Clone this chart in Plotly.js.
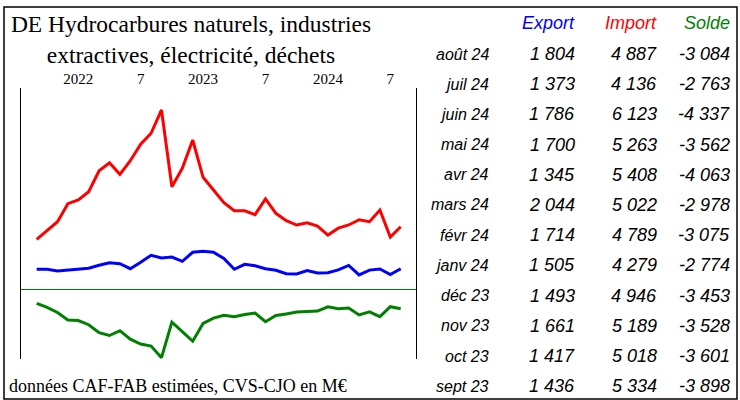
<!DOCTYPE html>
<html>
<head>
<meta charset="utf-8">
<script src="https://cdn.plot.ly/plotly-3.0.1.min.js"></script>
<style>html,body{margin:0;padding:0;background:#fff}#chart{width:740px;height:400px}</style>
</head>
<body>
<div id="chart"></div>
<script>
// Monthly series, Sep 2021 .. Aug 2024 (M€)
const months = ['2021-09','2021-10','2021-11','2021-12','2022-01','2022-02','2022-03','2022-04','2022-05','2022-06','2022-07','2022-08','2022-09','2022-10','2022-11','2022-12','2023-01','2023-02','2023-03','2023-04','2023-05','2023-06','2023-07','2023-08','2023-09','2023-10','2023-11','2023-12','2024-01','2024-02','2024-03','2024-04','2024-05','2024-06','2024-07','2024-08'];
const exportVals = [1760,1760,1635,1685,1730,1835,2055,2245,2170,1805,2275,2790,2590,2665,2350,3010,3085,3010,2555,1760,2125,2025,1805,1685,1436,1417,1661,1493,1505,1714,2044,1345,1700,1786,1373,1804];
const importVals = [3965,4600,5260,6590,6860,7470,9015,9605,8750,9750,10960,11770,13485,7840,9195,11275,8530,7595,6660,6070,6070,5780,6935,5880,5334,5018,5189,4946,4279,4789,5022,5408,5263,6123,4136,4887];
const soldeVals = [-2215,-2880,-3680,-4860,-4950,-5610,-6880,-7320,-6560,-7910,-8680,-9000,-10830,-5200,-6700,-8230,-5420,-4570,-4105,-4330,-3980,-3755,-5135,-4160,-3898,-3601,-3528,-3453,-2774,-3075,-2978,-4063,-3562,-4337,-2763,-3084];

// Axis ticks (top)
const tickMonths = ['2022-01','2022-07','2023-01','2023-07','2024-01','2024-07'];
const tickLabels = ['2022','7','2023','7','2024','7'];

// Table (latest 12 months)
const tableHeaders = ['Export','Import','Solde'];
const tableRows = ['août 24','juil 24','juin 24','mai 24','avr 24','mars 24','févr 24','janv 24','déc 23','nov 23','oct 23','sept 23'];
const tableExport = [1804,1373,1786,1700,1345,2044,1714,1505,1493,1661,1417,1436];
const tableImport = [4887,4136,6123,5263,5408,5022,4789,4279,4946,5189,5018,5334];
const tableSolde = [-3084,-2763,-4337,-3562,-4063,-2978,-3075,-2774,-3453,-3528,-3601,-3898];

const W = 740, H = 400;
const px = x => x / W;
const py = y => 1 - y / H;
function fmt(v){
  const s = Math.abs(v).toString();
  let out = '';
  for (let i = 0; i < s.length; i++){
    if (i > 0 && (s.length - i) % 3 === 0) out += ' ';
    out += s[i];
  }
  return (v < 0 ? '-' : '') + out;
}

const traces = [
  {x: months, y: importVals, type:'scatter', mode:'lines', line:{color:'#ff0000', width:3}, yaxis:'y', hoverinfo:'skip'},
  {x: months, y: exportVals, type:'scatter', mode:'lines', line:{color:'#0000ff', width:3}, yaxis:'y', hoverinfo:'skip'},
  {x: months, y: soldeVals, type:'scatter', mode:'lines', line:{color:'#008000', width:3}, yaxis:'y2', hoverinfo:'skip'}
];

const annotations = [];
const serif = 'Liberation Serif, Times New Roman, serif';
const sans = 'Liberation Sans, Arial, sans-serif';
annotations.push({xref:'paper', yref:'paper', x:px(7), y:py(386), xanchor:'left', yanchor:'middle', showarrow:false,
  text:'données CAF-FAB estimées, CVS-CJO en M€', font:{family:serif, size:18, color:'#000'}});

const headerColors = ['#0000ff','#ff0000','#008000'];
const colRight = [577, 659, 732];
const rowLabelRight = 491;
const headerY = 23;
const rowY0 = 54, rowStep = 30.2;
tableHeaders.forEach((h, j) => {
  annotations.push({xref:'paper', yref:'paper', x:px(colRight[j]), y:py(headerY), xanchor:'right', yanchor:'middle', showarrow:false,
    text:'<i>'+h+'</i>', font:{family:sans, size:18, color:headerColors[j]}});
});
const cols = [tableExport, tableImport, tableSolde];
tableRows.forEach((r, i) => {
  const y = rowY0 + i*rowStep;
  annotations.push({xref:'paper', yref:'paper', x:px(rowLabelRight), y:py(y), xanchor:'right', yanchor:'middle', showarrow:false,
    text:'<i>'+r+'</i>', font:{family:sans, size:16, color:'#000'}});
  cols.forEach((c, j) => {
    annotations.push({xref:'paper', yref:'paper', x:px(colRight[j]), y:py(y), xanchor:'right', yanchor:'middle', showarrow:false,
      text:'<i>'+fmt(c[i])+'</i>', font:{family:sans, size:18, color:'#000'}});
  });
});

const layout = {
  width: W, height: H,
  margin:{l:0, r:0, t:0, b:0, pad:0},
  paper_bgcolor:'#fff', plot_bgcolor:'rgba(0,0,0,0)',
  showlegend:false,
  title:{text:'DE Hydrocarbures naturels, industries<br>extractives, électricité, déchets',
    x:px(191), xanchor:'center', y:py(32), yanchor:'middle', font:{family:serif, size:23.5, color:'#000'}},
  xaxis:{type:'category', domain:[px(21.3), px(416.3)], range:[-1.48, 36.5], side:'top',
    tickmode:'array', tickvals:tickMonths, ticktext:tickLabels, ticks:'', showgrid:false, zeroline:false, showline:false,
    tickfont:{family:serif, size:15, color:'#000'}},
  yaxis:{domain:[py(359), py(88)], range:[-4843, 15103], showline:true, linecolor:'#000', linewidth:1,
    ticks:'', showticklabels:false, showgrid:false, zeroline:false},
  yaxis2:{overlaying:'y', side:'right', range:[-11047, 31906], showline:true, linecolor:'#000', linewidth:1,
    ticks:'', showticklabels:false, showgrid:false, zeroline:true, zerolinecolor:'#008000', zerolinewidth:1},
  shapes:[{type:'rect', xref:'paper', yref:'paper', x0:px(4), x1:px(737), y0:py(399), y1:py(7), line:{color:'#000', width:1.5}, fillcolor:'rgba(0,0,0,0)'}],
  annotations: annotations
};

Plotly.newPlot('chart', traces, layout, {staticPlot:true, displayModeBar:false});
</script>
</body>
</html>
